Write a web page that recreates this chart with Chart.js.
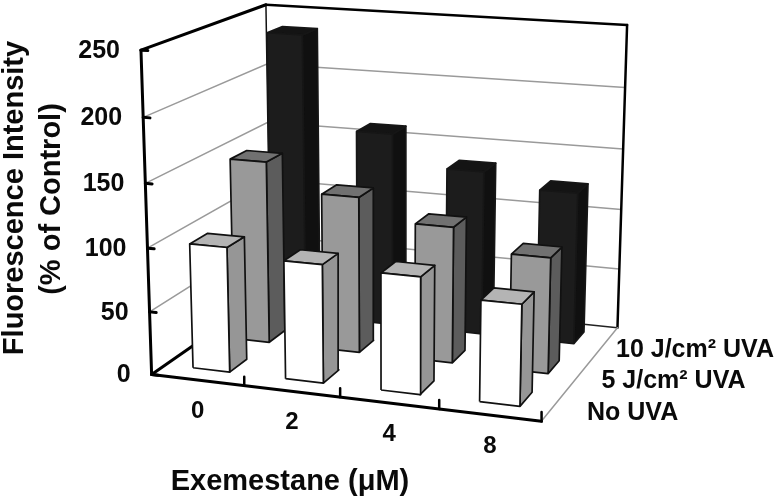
<!DOCTYPE html>
<html>
<head>
<meta charset="utf-8">
<script src="https://cdn.jsdelivr.net/npm/chart.js@4/dist/chart.umd.min.js"></script>
<style>
  html, body { margin: 0; padding: 0; background: #fff; }
  canvas { display: block; }
</style>
</head>
<body>
<canvas id="chart" width="780" height="500"></canvas>
<script>
var concentrations = ['0', '2', '4', '8'];
var doses = ['No UVA', '5 J/cm\u00B2 UVA', '10 J/cm\u00B2 UVA'];
var noUva = [99, 93, 91, 78];
var uva5 = [148, 126, 109, 92];
var uva10 = [236, 160, 135, 124];
var yTicks = [0, 50, 100, 150, 200, 250];
var yMax = 250;

var rows = [noUva, uva5, uva10];
var rowColors = [
  { front: '#ffffff', top: '#b4b4b4', side: '#969696', line: '#111111' },
  { front: '#999999', top: '#717171', side: '#5c5c5c', line: '#111111' },
  { front: '#1c1c1c', top: '#141414', side: '#101010', line: '#161616' }
];

// cube corners as seen on the picture: [u, v, w, px, py]
var corners = [
  [0, 0, 0, 151, 373], [1, 0, 0, 542, 422], [1, 1, 0, 617, 327], [0, 1, 0, 271, 293],
  [0, 0, 1, 141, 51], [0, 1, 1, 266, 4], [1, 1, 1, 627, 25]
];

// least squares camera matrix, so the depth foreshortening is a real one
function fitCamera(pts) {
  var n = 11, A = [], b = [], i, j, k;
  for (i = 0; i < n; i++) { A.push(new Array(n).fill(0)); b.push(0); }
  function addRow(r, t) {
    for (i = 0; i < n; i++) {
      for (j = 0; j < n; j++) A[i][j] += r[i] * r[j];
      b[i] += r[i] * t;
    }
  }
  pts.forEach(function(p) {
    addRow([p[0], p[1], p[2], 1, 0, 0, 0, 0, -p[3] * p[0], -p[3] * p[1], -p[3] * p[2]], p[3]);
    addRow([0, 0, 0, 0, p[0], p[1], p[2], 1, -p[4] * p[0], -p[4] * p[1], -p[4] * p[2]], p[4]);
  });
  // small ridge keeps the system solvable, one dof is thinly constrained
  for (i = 0; i < n; i++) A[i][i] += 1e-9;
  for (i = 0; i < n; i++) {
    var best = i;
    for (k = i + 1; k < n; k++) if (Math.abs(A[k][i]) > Math.abs(A[best][i])) best = k;
    var tmp = A[i]; A[i] = A[best]; A[best] = tmp;
    var tb = b[i]; b[i] = b[best]; b[best] = tb;
    for (k = i + 1; k < n; k++) {
      var f = A[k][i] / A[i][i];
      for (j = i; j < n; j++) A[k][j] -= f * A[i][j];
      b[k] -= f * b[i];
    }
  }
  var x = new Array(n).fill(0);
  for (i = n - 1; i >= 0; i--) {
    var s = b[i];
    for (j = i + 1; j < n; j++) s -= A[i][j] * x[j];
    x[i] = s / A[i][i];
  }
  return x;
}

var cam = fitCamera(corners);

function project(u, v, w) {
  var d = cam[8] * u + cam[9] * v + cam[10] * w + 1;
  return {
    x: (cam[0] * u + cam[1] * v + cam[2] * w + cam[3]) / d,
    y: (cam[4] * u + cam[5] * v + cam[6] * w + cam[7]) / d
  };
}

var datasets = [];

function addLine(pts, color, width) {
  datasets.push({
    data: pts, showLine: true, fill: false, tension: 0, pointRadius: 0,
    borderColor: color, borderWidth: width, borderCapStyle: 'round', clip: false
  });
}

function addFace(pts, fillColor, lineColor, width) {
  datasets.push({
    data: pts.concat([pts[0]]), showLine: true, fill: 'shape', tension: 0, pointRadius: 0,
    backgroundColor: fillColor, borderColor: lineColor, borderWidth: width,
    borderJoinStyle: 'round', clip: false
  });
}

// walls
yTicks.slice(1, -1).forEach(function(t) {
  var w = t / yMax;
  addLine([project(0, 0, w), project(0, 1, w), project(1, 1, w)], '#9a9a9a', 1.5);
});
addLine([project(0, 1, 0), project(0, 1, 1)], '#111111', 1.5);
addLine([project(1, 1, 0), project(1, 1, 1)], '#000000', 2.5);
addLine([project(0, 1, 1), project(1, 1, 1)], '#000000', 2.5);
addLine([project(0, 0, 1), project(0, 1, 1)], '#000000', 3);
addLine([project(0, 1, 0), project(1, 1, 0)], '#222222', 1.5);
addLine([project(1, 0, 0), project(1, 1, 0)], '#9a9a9a', 1.5);
addLine([project(0, 0, 0), project(0, 1, 0)], '#000000', 3);

// bars, back row first so the nearer ones cover them
var barLeft = 0.30, barRight = 0.70, barFront = 0.32, barBack = 0.74;
for (var r = rows.length - 1; r >= 0; r--) {
  rows[r].forEach(function(val, c) {
    var u0 = (c + barLeft) / concentrations.length;
    var u1 = (c + barRight) / concentrations.length;
    var v0 = (r + barFront) / rows.length;
    var v1 = (r + barBack) / rows.length;
    var h = val / yMax;
    var col = rowColors[r];
    addFace([project(u1, v0, 0), project(u1, v1, 0), project(u1, v1, h), project(u1, v0, h)], col.side, col.line, 1.7);
    addFace([project(u0, v0, h), project(u1, v0, h), project(u1, v1, h), project(u0, v1, h)], col.top, col.line, 1.7);
    addFace([project(u0, v0, 0), project(u1, v0, 0), project(u1, v0, h), project(u0, v0, h)], col.front, col.line, 1.7);
  });
}

// front axes and tick marks
addLine([project(0, 0, 0), project(0, 0, 1)], '#000000', 3);
addLine([project(0, 0, 0), project(1, 0, 0)], '#000000', 3);
yTicks.forEach(function(t) {
  addLine([project(0, 0, t / yMax), project(0.018, 0, t / yMax)], '#000000', 3);
});
concentrations.forEach(function(c, i) {
  var u = (i + 1) / concentrations.length;
  addLine([project(u, 0, 0), project(u, 0, 0.028)], '#000000', 2.5);
});

// first dataset is painted last in chart.js, so give order explicitly
datasets.forEach(function(d, i) { d.order = datasets.length - i; });

var labelPlugin = {
  id: 'labels3d',
  afterDraw: function(chart) {
    var ctx = chart.ctx;
    ctx.save();
    ctx.fillStyle = '#0a0a0a';
    ctx.textBaseline = 'middle';

    ctx.font = 'bold 25px "Liberation Sans", Arial, sans-serif';
    ctx.textAlign = 'right';
    yTicks.forEach(function(t) {
      var p = project(0, 0, t / yMax);
      ctx.fillText(String(t), p.x - 21, p.y + 1);
    });

    ctx.font = 'bold 24px "Liberation Sans", Arial, sans-serif';
    ctx.textAlign = 'center';
    concentrations.forEach(function(c, i) {
      var p = project((i + 0.5) / concentrations.length, 0, 0);
      ctx.fillText(c, p.x, p.y + 31);
    });

    ctx.font = 'bold 25px "Liberation Sans", Arial, sans-serif';
    ctx.textAlign = 'left';
    doses.forEach(function(d, i) {
      ctx.fillText(d, 587 + i * 14.5, 413 - i * 31.5);
    });

    ctx.font = 'bold 29px "Liberation Sans", Arial, sans-serif';
    ctx.textAlign = 'center';
    ctx.fillText('Exemestane (\u03BCM)', 290, 482);

    ctx.save();
    ctx.translate(15, 198);
    ctx.rotate(-Math.PI / 2);
    ctx.fillText('Fluorescence Intensity', 0, 0);
    ctx.restore();
    ctx.save();
    ctx.translate(52, 199);
    ctx.rotate(-Math.PI / 2);
    ctx.fillText('(% of Control)', 0, 0);
    ctx.restore();
    ctx.restore();
  }
};

new Chart(document.getElementById('chart'), {
  type: 'scatter',
  data: { datasets: datasets },
  plugins: [labelPlugin],
  options: {
    responsive: false,
    animation: false,
    layout: { padding: 0 },
    plugins: { legend: { display: false }, tooltip: { enabled: false }, title: { display: false } },
    scales: {
      x: { type: 'linear', min: 0, max: 780, display: false },
      y: { type: 'linear', min: 0, max: 500, reverse: true, display: false }
    }
  }
});
</script>
</body>
</html>
